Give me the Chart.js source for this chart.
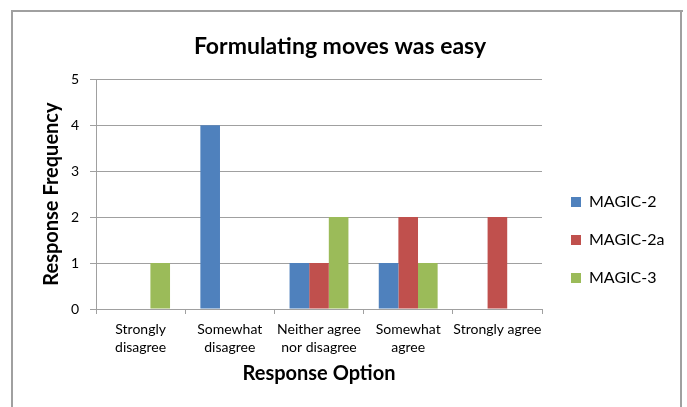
<!DOCTYPE html>
<html>
<head>
<meta charset="utf-8">
<script src="https://cdn.jsdelivr.net/npm/chart.js@4.4.1/dist/chart.umd.min.js"></script>
<style>
  html, body { margin: 0; background: #fff; overflow: hidden; }
  #grafikRespon { display: block; }
</style>
</head>
<body>
<canvas id="grafikRespon" width="687" height="407"></canvas>
<script>
const kategori = [['Strongly', 'disagree'], ['Somewhat', 'disagree'], ['Neither agree', 'nor disagree'], ['Somewhat', 'agree'], 'Strongly agree'];
const magic2 = [0, 4, 1, 1, 0];
const magic2a = [0, 0, 1, 2, 2];
const magic3 = [1, 0, 2, 1, 0];
const tickY = [0, 1, 2, 3, 4, 5];

const garis = '#a0a0a0';
const huruf = 'Lato';

// geser legenda sedikit ke kanan dan lebarkan area gambarnya
const geserLegenda = {
    id: 'geserLegenda',
    afterLayout(chart) {
        chart.legend.left += 7;
        chart.legend.right += 60;
        chart.legend.width = chart.legend.right - chart.legend.left;
    }
};

// bingkai abu-abu di sekeliling grafik
const bingkai = {
    id: 'bingkai',
    afterDraw(chart) {
        const c = chart.ctx;
        c.save();
        c.fillStyle = garis;
        c.fillRect(11, 10, 672, 2);
        c.fillRect(11, 10, 2, 400);
        c.fillRect(680, 10, 2, 400);
        c.restore();
    }
};

const ctx = document.getElementById('grafikRespon').getContext('2d');
const chart = new Chart(ctx, {
    type: 'bar',
    data: {
        labels: kategori,
        datasets: [
            { label: 'MAGIC-2', data: magic2, backgroundColor: '#4f81bd' },
            { label: 'MAGIC-2a', data: magic2a, backgroundColor: '#c0504d' },
            { label: 'MAGIC-3', data: magic3, backgroundColor: '#9bbb59' }
        ]
    },
    options: {
        responsive: false,
        animation: false,
        devicePixelRatio: 1,
        categoryPercentage: 0.66,
        barPercentage: 1,
        layout: {
            padding: { left: 36, right: 43, top: 0, bottom: 17 }
        },
        plugins: {
            tooltip: { enabled: false },
            title: {
                display: true,
                text: 'Formulating moves was easy',
                color: '#000',
                font: { family: huruf, size: 23, weight: 'bold' },
                padding: { top: 33, bottom: 18.6 }
            },
            legend: {
                position: 'right',
                align: 'start',
                maxWidth: 102,
                title: {
                    display: true,
                    text: '',
                    font: { size: 12 },
                    padding: { top: 157.6, bottom: 0 }
                },
                labels: {
                    boxWidth: 10,
                    boxHeight: 10,
                    padding: 22,
                    color: '#000',
                    font: { family: huruf, size: 16 }
                }
            }
        },
        scales: {
            x: {
                grid: {
                    offset: true,
                    drawOnChartArea: false,
                    drawTicks: true,
                    tickLength: 5,
                    color: garis
                },
                border: { color: garis },
                ticks: {
                    color: '#000',
                    padding: 6,
                    maxRotation: 0,
                    autoSkip: false,
                    font: { family: huruf, size: 14, lineHeight: 1.3 }
                },
                title: {
                    display: true,
                    text: 'Response Option',
                    color: '#000',
                    font: { family: huruf, size: 20, weight: 'bold' },
                    padding: { top: 4, bottom: 4 }
                },
                afterFit: s => { s.height = 81; }
            },
            y: {
                min: 0,
                max: 5,
                afterBuildTicks: s => { s.ticks = tickY.map(v => ({ value: v })); },
                grid: {
                    color: garis,
                    tickLength: 6
                },
                border: { color: garis },
                ticks: {
                    color: '#000',
                    padding: 11,
                    font: { family: huruf, size: 14 }
                },
                title: {
                    display: true,
                    text: 'Response Frequency',
                    color: '#000',
                    font: { family: huruf, size: 20, weight: 'bold' },
                    padding: { top: 4, bottom: 4 }
                },
                afterFit: s => { s.width = 60; }
            }
        }
    },
    plugins: [geserLegenda, bingkai]
});
</script>
</body>
</html>
